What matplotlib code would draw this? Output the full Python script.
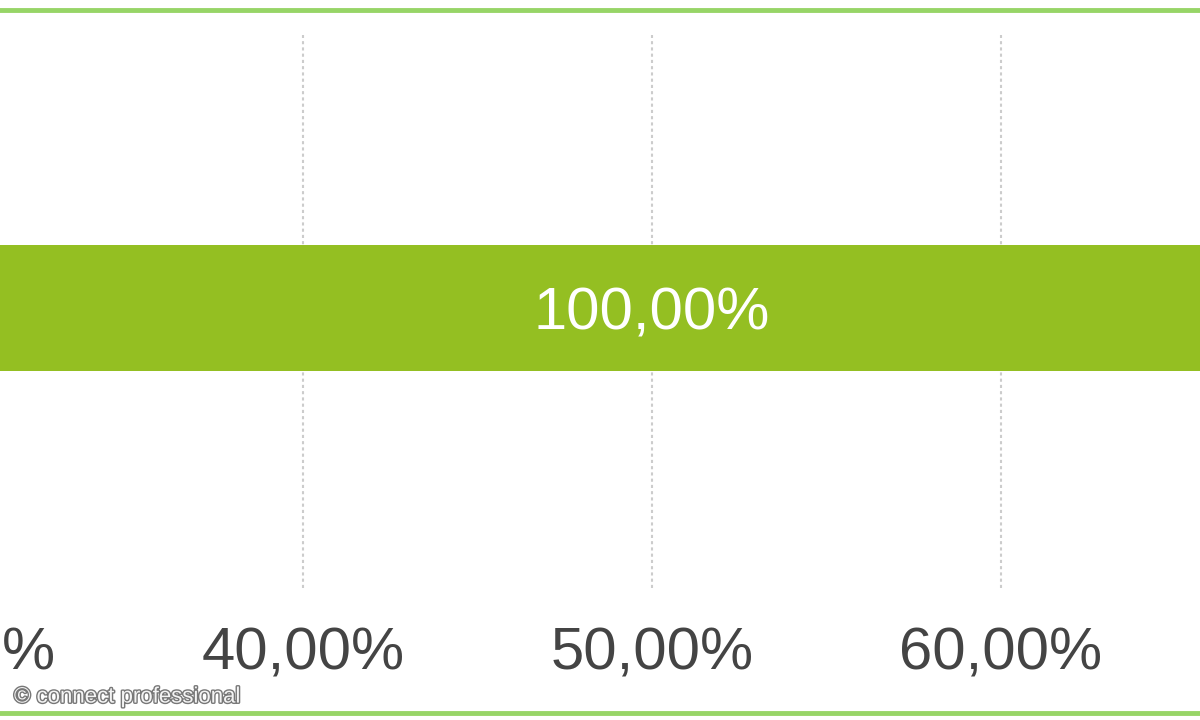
import matplotlib.pyplot as plt
import matplotlib.patheffects as pe
from matplotlib.lines import Line2D

# data
categorias = [""]
valores = [100.0]
ticks = [30, 40, 50, 60]
etiquetas_ticks = ["30,00%", "40,00%", "50,00%", "60,00%"]
etiquetas_barras = ["100,00%"]

plt.rcParams['font.family'] = ['Liberation Sans', 'DejaVu Sans']

fig = plt.figure(figsize=(12, 7.2), dpi=100)
# axes is wider than the figure: only a zoomed slice of the chart is visible
W, H = 1200.0, 720.0
x25 = 303 - 15 * 34.9
x75 = 1001 + 15 * 34.9
ax = fig.add_axes([x25 / W, 1 - 588 / H, (x75 - x25) / W, 553 / H])

ax.barh([0], valores, height=0.8, color="#94bf22", zorder=2)
for v, txt in zip(valores, etiquetas_barras):
    ax.text(v / 2, -0.04, txt, ha="center", va="center", color="white",
            fontsize=43, zorder=3)

ax.set_xlim(25, 75)
ax.set_ylim(-1.778, 1.733)
ax.set_xticks(ticks)
ax.set_xticklabels(etiquetas_ticks, fontsize=43, color="#444444")
ax.tick_params(axis="x", length=0, pad=28)
ax.set_yticks([])
for s in ax.spines.values():
    s.set_visible(False)
ax.grid(axis="x", color="#cccccc", linestyle=(0, (1.5, 1.5)), linewidth=1.5, zorder=0)
ax.set_axisbelow(True)

# green frame lines
fig.add_artist(Line2D([0, 1], [1 - 10 / H, 1 - 10 / H], color="#97d567", linewidth=3.5))
fig.add_artist(Line2D([0, 1], [1 - 713 / H, 1 - 713 / H], color="#97d567", linewidth=3.5))

fig.text(14 / W, 1 - 697 / H, "© connect professional", fontsize=16, color="#f4f4f4",
         va="center", ha="left",
         path_effects=[pe.withStroke(linewidth=2, foreground="#777777")])

fig.savefig("out.png", dpi=100)
